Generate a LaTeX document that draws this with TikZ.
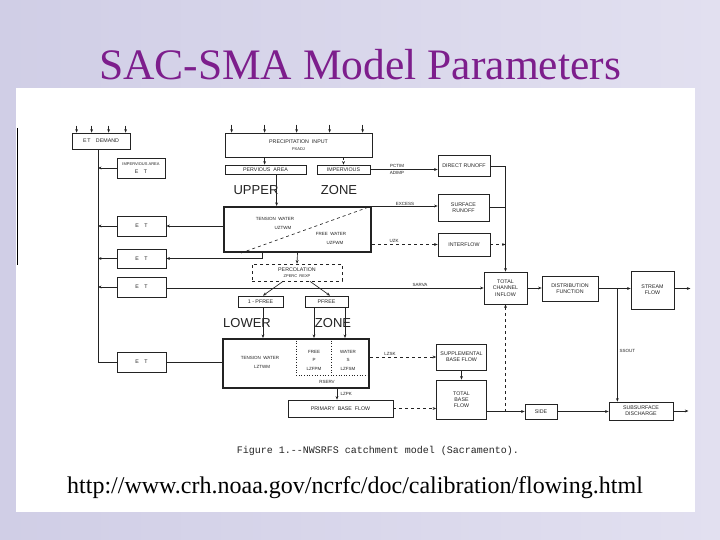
\documentclass[tikz,border=0pt]{standalone}
\usepackage{fontspec}
\setmainfont{Liberation Serif}
\setsansfont{Liberation Sans}
\setmonofont{Liberation Mono}
\usetikzlibrary{calc,arrows.meta}
\definecolor{bgl}{RGB}{208,206,230}
\definecolor{bgr}{RGB}{226,224,240}
\definecolor{ttl}{RGB}{125,30,140}
\definecolor{ink}{RGB}{35,35,35}
\tikzset{
 box/.style={draw=ink, line width=0.75pt, inner sep=0pt, align=center, font=\sffamily\fontsize{5.3}{6.3}\selectfont, text=ink},
 zonebox/.style={draw=ink, line width=2pt},
 conn/.style={draw=ink, line width=0.65pt},
 arr/.style={conn, -{Stealth[length=3.5pt,width=2.8pt]}},
 lbl/.style={font=\sffamily\fontsize{4.5}{5.5}\selectfont, text=ink, inner sep=0.5pt},
 zonelbl/.style={font=\sffamily\fontsize{13}{13}\selectfont, text=ink, inner sep=0pt},
}
\begin{document}
\begin{tikzpicture}[x=1pt,y=-1pt]
\useasboundingbox (0,0) rectangle (720,540);
\shade[left color=bgl, right color=bgr] (0,0) rectangle (720,540);
\fill[white] (16,88) rectangle (695,512);
\draw[black, line width=0.8pt] (17,128) -- (17,265);

% title and url
\node[font=\fontsize{43.5}{46}\selectfont, text=ttl] (title) at (360,65) {SAC-SMA Model Parameters};
\node[font=\fontsize{24}{26}\selectfont, text=black] (url) at (355,488) {http://www.crh.noaa.gov/ncrfc/doc/calibration/flowing.html};
\node[font=\ttfamily\fontsize{10}{12}\selectfont, text=ink] (cap) at (378,451) {Figure 1.--NWSRFS catchment model (Sacramento).};

% boxes
\node[box, minimum width=58pt, minimum height=16pt] (etd) at (101,141) {E\,T\quad DEMAND};
\node[box, minimum width=147pt, minimum height=24pt] (precip) at (298.5,145) {PRECIPITATION\ \ INPUT\\[1pt]{\fontsize{4}{4.5}\selectfont PXADJ}};
\node[box, minimum width=48pt, minimum height=20pt] (iet) at (141,168) {{\fontsize{4}{4.5}\selectfont IMPERVIOUS AREA}\\[1pt]E\quad T};
\node[box, minimum width=81pt, minimum height=9pt] (perv) at (265.5,169.5) {PERVIOUS\ \ AREA};
\node[box, minimum width=53pt, minimum height=9pt] (imperv) at (343.5,169.5) {IMPERVIOUS};
\node[box, minimum width=52pt, minimum height=21pt] (dr) at (464,166) {DIRECT RUNOFF};
\node[box, zonebox, minimum width=147pt, minimum height=45pt] (uz) at (297.5,229.5) {};
\node[box, minimum width=51pt, minimum height=27pt] (sr) at (463.5,207.5) {SURFACE\\RUNOFF};
\node[box, minimum width=52pt, minimum height=23pt] (inter) at (464,244.5) {INTERFLOW};
\node[box, minimum width=49pt, minimum height=20pt] (et1) at (141.5,226) {E\quad T};
\node[box, minimum width=49pt, minimum height=19pt] (et2) at (141.5,258.5) {E\quad T};
\node[box, minimum width=49pt, minimum height=20pt] (et3) at (141.5,287) {E\quad T};
\node[box, minimum width=49pt, minimum height=20pt] (et4) at (141.5,362) {E\quad T};
\node[box, dashed, minimum width=90pt, minimum height=17pt] (perc) at (297,272.5) {PERCOLATION\\{\fontsize{4}{4.5}\selectfont ZPERC\ \ REXP}};
\node[box, minimum width=45pt, minimum height=11pt] (lfree) at (260.5,301.5) {1 - PFREE};
\node[box, minimum width=43pt, minimum height=11pt] (pfree) at (326.5,301.5) {PFREE};
\node[box, zonebox, minimum width=146pt, minimum height=49pt] (lz) at (296,363.5) {};
\node[box, minimum width=43pt, minimum height=32pt] (tci) at (505.5,288) {TOTAL\\CHANNEL\\INFLOW};
\node[box, minimum width=56pt, minimum height=25pt] (df) at (570,288.5) {DISTRIBUTION\\FUNCTION};
\node[box, minimum width=43pt, minimum height=38pt] (sf) at (652.5,290) {STREAM\\FLOW};
\node[box, minimum width=50pt, minimum height=26pt] (sbf) at (461.5,357) {SUPPLEMENTAL\\BASE FLOW};
\node[box, minimum width=50pt, minimum height=39pt] (tbf) at (461.5,399.5) {TOTAL\\BASE\\FLOW};
\node[box, minimum width=32pt, minimum height=15pt] (side) at (541,411.5) {SIDE};
\node[box, minimum width=64pt, minimum height=18pt] (sd) at (641,411) {SUBSURFACE\\DISCHARGE};
\node[box, minimum width=105pt, minimum height=17pt] (pbf) at (340.5,408.5) {PRIMARY\ \ BASE\ \ FLOW};

% zone words
\node[zonelbl] (upw) at (256,190) {UPPER};
\node[zonelbl] (upz) at (339,190) {ZONE};
\node[zonelbl] (low) at (247,323) {LOWER};
\node[zonelbl] (lowz) at (333,323) {ZONE};

% upper zone interior
\draw[conn, dashed] ($(uz.south west)+(18,0)$) -- ($(uz.north east)+(-3,1)$);
\node[lbl] (uzt) at (275,219) {TENSION\ \ WATER};
\node[lbl] (uztm) at (283,228) {UZTWM};
\node[lbl] (uzf) at (331,234) {FREE\ \ WATER};
\node[lbl] (uzfm) at (335,243) {UZFWM};

% lower zone interior
\draw[conn, dotted, line width=0.8pt] ($(lz.north west)+(74,0)$) -- ++(0,37) -- ($(lz.north east)+(-2,37)$);
\draw[conn, dotted, line width=0.8pt] ($(lz.north west)+(109,0)$) -- ++(0,37);
\node[lbl] (lzt) at (260,358) {TENSION\ \ WATER};
\node[lbl] (lztm) at (262,367) {LZTWM};
\node[lbl] (lzp1) at (314,352) {FREE};
\node[lbl] (lzp2) at (314,360) {P};
\node[lbl] (lzp3) at (314,369) {LZFPM};
\node[lbl] (lzs1) at (348,352) {WATER};
\node[lbl] (lzs2) at (348,360) {S};
\node[lbl] (lzs3) at (348,369) {LZFSM};
\node[lbl] (rsv) at (327,382) {RSERV};

% input arrows on top
\foreach \dx in {5,20,37,54} \draw[arr] ($(etd.north west)+(\dx,-7)$) -- ($(etd.north west)+(\dx,0)$);
\foreach \dx in {7,40,72,105,138} \draw[arr] ($(precip.north west)+(\dx,-8)$) -- ($(precip.north west)+(\dx,0)$);

% ET demand distribution line
\coordinate (vl) at ($(etd.south)+(-3,0)$);
\draw[conn] (vl) -- (vl |- et4.west) -- (et4.west);
\draw[arr] (iet.west) -- (iet.west -| vl);
\draw[arr] (et1.west) -- (et1.west -| vl);
\draw[arr] (et2.west) -- (et2.west -| vl);
\draw[arr] (et3.west) -- (et3.west -| vl);

% precipitation split
\draw[arr] ($(precip.south west)+(40,0)$) coordinate (p1) -- (p1 |- perv.north);
\draw[arr, dashed] (precip.south -| imperv.north) -- (imperv.north);
\draw[arr] ($(perv.south west)+(52,0)$) coordinate (p2) -- (p2 |- uz.north);
\draw[arr] (imperv.east) -- (imperv.east -| dr.west);
\node[lbl, anchor=south] (pct) at (397,168) {PCTIM};
\node[lbl, anchor=north] (adi) at (397,170.5) {ADIMP};

% upper zone outflows
\draw[arr] (uz.north east) -- (uz.north east -| sr.west);
\node[lbl, anchor=south] (exc) at (405,206) {EXCESS};
\draw[arr, dashed] (uz.east |- inter.west) -- (inter.west);
\node[lbl, anchor=south] (uzk) at (394,243.5) {UZK};
\draw[arr] (uz.west |- et1.east) -- (et1.east);
\draw[arr] ($(uz.south west)+(39,0)$) coordinate (u2) |- (et2.east);
\draw[arr] (uz.south) -- (perc.north);

% channel inflow
\draw[arr] (dr.east) -| (tci.north);
\draw[conn] (sr.east) -- (sr.east -| tci.north);
\draw[arr, dashed] (inter.east) -- (inter.east -| tci.north);
\draw[arr] (et3.east |- tci.west) -- (tci.west);
\node[lbl, anchor=south] (sarva) at (420,287.5) {SARVA};

% percolation
\draw[arr] ($(perc.south)+(-14,0)$) -- ($(lfree.north)+(2.5,0)$);
\draw[arr] ($(perc.south)+(13,0)$) -- ($(pfree.north)+(3.5,0)$);
\draw[arr] ($(lfree.south)+(2.5,0)$) coordinate (q1) -- (q1 |- lz.north);
\draw[arr] ($(pfree.south)+(-12.5,0)$) coordinate (q2) -- (q2 |- lz.north);
\draw[arr] ($(pfree.south)+(18.5,0)$) coordinate (q3) -- (q3 |- lz.north);
\draw[conn] (et4.east) -- (et4.east -| lz.west);

% lower zone outflows
\draw[arr, dashed] (lz.east |- sbf.west) -- (sbf.west);
\node[lbl, anchor=south] (lzsk) at (390,356.5) {LZSK};
\draw[arr] ($(lz.south west)+(115,0)$) coordinate (q4) -- (q4 |- pbf.north);
\node[lbl, anchor=west] (lzpk) at (340,394) {LZPK};
\draw[arr, dashed] (pbf.east) -- (pbf.east -| tbf.west);
\draw[arr] (sbf.south) -- (tbf.north);

% base flow
\draw[arr] (tbf.east |- side.west) -- (side.west);
\draw[arr, dashed] (tci.south |- side.west) -- (tci.south);
\draw[arr] (side.east) -- (side.east -| sd.west);
\coordinate (sdo) at ($(sd.east)+(15,0)$);
\draw[arr] (sd.east) -- (sdo);

% routing
\draw[arr] (tci.east) -- (tci.east -| df.west);
\draw[arr] (df.east) -- (df.east -| sf.west);
\coordinate (sfo) at ($(sf.east |- df.east)+(16,0)$);
\draw[arr] (sf.east |- df.east) -- (sfo);
\coordinate (j2) at ($(df.east)+(19,0)$);
\draw[arr] (j2) -- (j2 |- sd.north);
\node[lbl, anchor=west] (ssout) at (619,351) {SSOUT};
\end{tikzpicture}
\end{document}
